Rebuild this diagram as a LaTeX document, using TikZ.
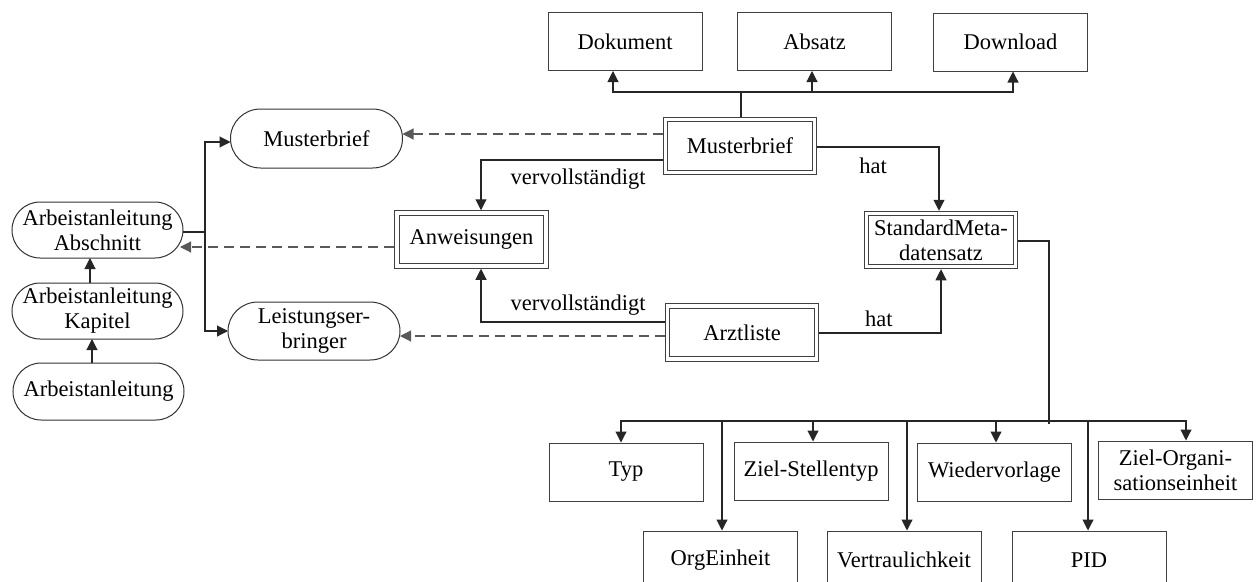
\documentclass[tikz,border=0pt]{standalone}
\usepackage{fontspec}
\setmainfont{Liberation Serif}
\usetikzlibrary{arrows.meta}
% oval outline around a node: #1 node name, #2 end x radius, #3 end y radius
\newcommand{\ovalaround}[3]{%
  \draw[ovl] ([xshift=#2]#1.north west) -- ([xshift=-#2]#1.north east)
    arc[start angle=90, end angle=-90, x radius=#2, y radius=#3]
    -- ([xshift=#2]#1.south west)
    arc[start angle=270, end angle=90, x radius=#2, y radius=#3] -- cycle;}
\begin{document}
\begin{tikzpicture}[x=1pt,y=-1pt,
  every node/.style={font=\fontsize{22.5}{25}\selectfont, inner sep=0pt, align=center},
  ln/.style={draw=black!85, line width=1.1pt},
  arr/.style={ln, -{Triangle[length=11pt,width=11pt]}},
  dsh/.style={arr, draw=black!65, dash pattern=on 10pt off 6pt},
  box/.style={draw=black!75, line width=1pt, minimum width=154pt, minimum height=58pt},
  dbox/.style={draw=black!75, line width=1pt, double=white, double distance=3.5pt,
               minimum width=149pt, minimum height=53pt, outer sep=2.75pt},
  oval/.style={outer sep=0pt, minimum width=172pt, minimum height=57pt},
  ovl/.style={draw=black!80, line width=1pt}
]
\useasboundingbox (0,0) rectangle (1260,581);

% entity boxes
\node[box] (dok) at (625,41.5) {Dokument};
\node[box] (abz) at (814.5,41.5) {Absatz};
\node[box] (dwn) at (1010.5,42) {Download};
\node[dbox] (mb)  at (740,146) {Musterbrief};
\node[dbox] (anw) at (471.5,239.5) {Anweisungen};
\node[dbox] (arz) at (742,332.5) {Arztliste};
\node[dbox] (smd) at (941,240) {StandardMeta-\\datensatz};

% document types
\node[oval, minimum height=59pt] (mbe) at (316.5,138.5) {Musterbrief};
\node[oval, minimum height=58pt] (lse) at (314,331) {Leistungser-\\bringer};
\node[oval, minimum width=171pt, minimum height=56pt] (abs) at (97.5,230) {Arbeistanleitung\\Abschnitt};
\node[oval, minimum width=171pt, minimum height=56pt] (kap) at (97.5,311) {Arbeistanleitung\\Kapitel};
\node[oval, minimum width=171pt, minimum height=57pt] (arb) at (98.5,391.5) {Arbeistanleitung};
\ovalaround{mbe}{30pt}{29.5pt}
\ovalaround{lse}{30pt}{29pt}
\ovalaround{abs}{28pt}{28pt}
\ovalaround{kap}{28pt}{28pt}
\ovalaround{arb}{28pt}{28.5pt}

% metadata fields
\node[box] (typ) at (626,472) {Typ};
\node[box] (zst) at (811,471) {Ziel-Stellentyp};
\node[box] (wdv) at (994.5,472) {Wiedervorlage};
\node[box] (zor) at (1175.5,470) {Ziel-Organi-\\sationseinheit};
\node[box] (org) at (720.5,560) {OrgEinheit};
\node[box] (vtr) at (904,560) {Vertraulichkeit};
\node[box] (pid) at (1089,560) {PID};

% Musterbrief -> Dokument / Absatz / Download
\coordinate (tb) at (741,92);
\draw[ln] (mb.north -| tb) -- (tb);
\draw[arr] (tb) -| ([xshift=-12]dok.south);
\draw[arr] (tb) -| ([xshift=-2.5]abz.south);
\draw[arr] (tb) -| ([xshift=2.5]dwn.south);

% dashed type links
\coordinate (d1) at ([yshift=12]mb.west);
\draw[dsh] (d1) -- (d1 -| mbe.east);
\coordinate (d2) at ([yshift=-7.5]anw.west);
\coordinate (d2e) at ([xshift=-3]abs.east);
\draw[dsh] (d2) -- (d2 -| d2e);
\coordinate (d3) at ([yshift=-3.5]arz.west);
\draw[dsh] (d3) -- (d3 -| lse.east);

% vervollstaendigt
\coordinate (v1) at ([yshift=-14]mb.west);
\draw[arr] (v1) -| ([xshift=9.5]anw.north)
  node[pos=0.233, below=8pt] {vervollständigt};
\coordinate (v2) at ([yshift=10.5]arz.west);
\draw[arr] (v2) -| ([xshift=9.5]anw.south)
  node[pos=0.236, above=6pt] {vervollständigt};

% hat
\coordinate (h1) at ([yshift=-1]mb.east);
\draw[arr] (h1) -| ([xshift=-2]smd.north)
  node[pos=0.229, below=10pt] {hat};
\coordinate (h2) at ([yshift=-0.5]arz.east);
\draw[arr] (h2) -| (smd.south)
  node[pos=0.245, above=6pt] {hat};

% Arbeitsanleitung hierarchy
\draw[arr] ([xshift=-7.5]kap.north) -- ([xshift=-7.5]abs.south);
\draw[arr] ([xshift=-6.5]arb.north) -- ([xshift=-5.5]kap.south);
\coordinate (a0) at ([yshift=-2]abs.east);
\coordinate (j1) at ([xshift=22]a0);
\draw[ln] (a0) -- (j1);
\draw[arr] (j1) |- ([yshift=-3.5]mbe.west);
\draw[arr] (j1) |- (lse.west);

% StandardMetadatensatz -> fields
\coordinate (t0) at ([yshift=-1]smd.east);
\coordinate (bt) at (1049,424);
\coordinate (bj) at (1049,421);
\draw[ln] (t0) -| (bt);
\draw[arr] (bj) -| ([xshift=-5]typ.north);
\draw[arr] (bj) -| ([xshift=1.5]org.north);
\draw[arr] (bj) -| ([xshift=2]zst.north);
\draw[arr] (bj) -| ([xshift=3]vtr.north);
\draw[arr] (bj) -| ([xshift=1.5]wdv.north);
\draw[arr] (bj) -| ([xshift=-1]pid.north);
\draw[arr] (bj) -| ([xshift=10.5]zor.north);
\end{tikzpicture}
\end{document}
